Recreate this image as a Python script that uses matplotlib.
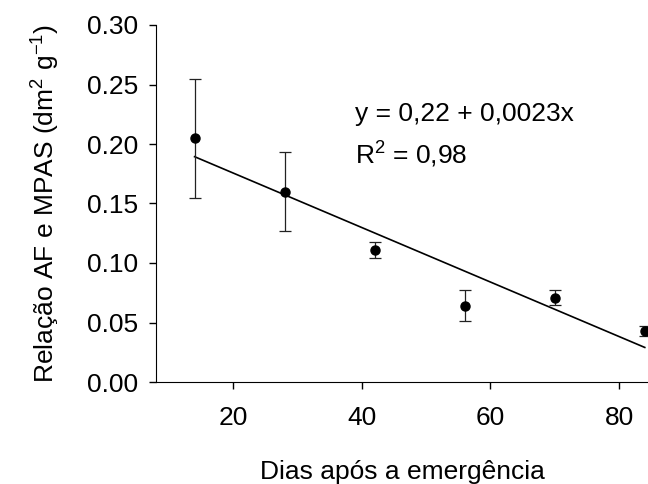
import numpy as np
import matplotlib
matplotlib.use('Agg')
import matplotlib.pyplot as plt

plt.rcParams['font.family'] = ['Liberation Sans', 'DejaVu Sans']
plt.rcParams['mathtext.fontset'] = 'custom'
plt.rcParams['mathtext.rm'] = 'Liberation Sans'
plt.rcParams['mathtext.it'] = 'Liberation Sans'
plt.rcParams['mathtext.default'] = 'regular'

# dados
dias = [14, 28, 42, 56, 70, 84]
relacao = [0.205, 0.160, 0.111, 0.064, 0.071, 0.043]
erro_sup = [0.050, 0.033, 0.007, 0.013, 0.006, 0.004]
erro_inf = [0.050, 0.033, 0.007, 0.013, 0.006, 0.004]

# ajuste linear
intercepto = 0.2214
inclinacao = -0.00229
x_ajuste = np.array([14, 84])

fig = plt.figure(figsize=(6.48, 4.84), dpi=100)
ax = fig.add_axes([156 / 648, 1 - 382 / 484, 1 - 156 / 648, 357 / 484])

ax.errorbar(dias, relacao, yerr=[erro_inf, erro_sup], fmt='o', color='black',
            ecolor='#222222', elinewidth=0.9, capsize=4.5, capthick=0.9,
            markersize=6.5, clip_on=False, zorder=3)
ax.plot(x_ajuste, intercepto + inclinacao * x_ajuste, color='black', lw=1.2)

ax.set_xlim(8, 84.5)
ax.set_ylim(0, 0.30)
ax.set_xticks([20, 40, 60, 80])
ax.set_yticks(np.arange(0, 0.31, 0.05))
ax.set_yticklabels([f'{v:.2f}' for v in np.arange(0, 0.31, 0.05)])
ax.spines['top'].set_visible(False)
ax.spines['right'].set_visible(False)
ax.tick_params(labelsize=19, direction='out', length=5, width=1)
ax.tick_params(axis='x', pad=12)
ax.tick_params(axis='y', pad=8)

ax.set_xlabel('Dias após a emergência', fontsize=19, labelpad=22)
ax.set_ylabel('Relação AF e MPAS (dm$^2$ g$^{-1}$)', fontsize=19, labelpad=18)

ax.text(0.4045, 0.75, 'y = 0,22 + 0,0023x', transform=ax.transAxes,
        fontsize=19, va='center', ha='left')
ax.text(0.4045, 0.635, 'R$^2$ = 0,98', transform=ax.transAxes,
        fontsize=19, va='center', ha='left')

fig.savefig('out.png', dpi=100)
